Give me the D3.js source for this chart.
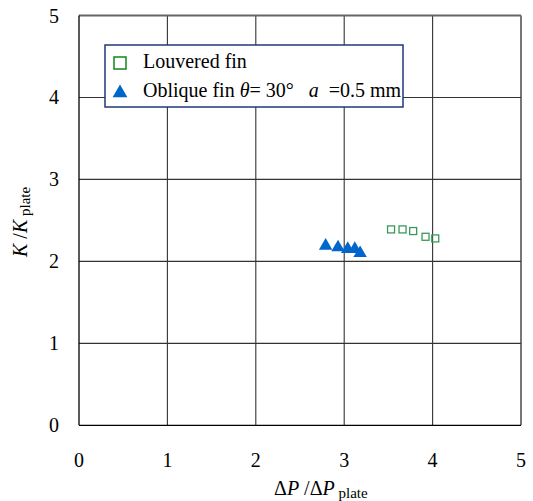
<!DOCTYPE html>
<html><head><meta charset="utf-8">
<script src="https://cdn.jsdelivr.net/npm/d3@7"></script>
<style>body{margin:0;background:#fff}</style>
</head><body><svg id="c" width="533" height="501" font-family="'Liberation Serif', 'Times New Roman', 'DejaVu Serif', serif"></svg>
<script>
const xTicks=[0,1,2,3,4,5];
const yTicks=[0,1,2,3,4,5];
const louveredX=[3.53,3.66,3.78,3.92,4.03];
const louveredY=[2.39,2.39,2.37,2.30,2.28];
const obliqueX=[2.79,2.93,3.04,3.12,3.18];
const obliqueY=[2.19,2.17,2.15,2.15,2.10];

const FONT="Liberation Serif, Times New Roman, serif";
const svg=d3.select("#c");
const L=79,R=521,T=15.5,B=425.3;
const x=d3.scaleLinear().domain([0,5]).range([L,R]);
const y=d3.scaleLinear().domain([0,5]).range([B,T]);

// grid
const g=svg.append("g");
g.selectAll(".vx").data(xTicks.filter(d=>d>0)).enter().append("line")
 .attr("x1",d=>x(d)).attr("x2",d=>x(d)).attr("y1",T).attr("y2",B)
 .attr("stroke",d=>d===5?"#555":"#333").attr("stroke-width",d=>d===5?1.6:1.1);
g.selectAll(".hy").data(yTicks.filter(d=>d>0)).enter().append("line")
 .attr("y1",d=>y(d)).attr("y2",d=>y(d)).attr("x1",L).attr("x2",R)
 .attr("stroke",d=>d===5?"#666":"#333").attr("stroke-width",d=>d===5?1.8:1.1);
g.append("line").attr("x1",L).attr("x2",L).attr("y1",T).attr("y2",B).attr("stroke","#000").attr("stroke-width",1.3);
g.append("line").attr("x1",L).attr("x2",R).attr("y1",B).attr("y2",B).attr("stroke","#000").attr("stroke-width",1.3);

// tick labels
svg.selectAll(".xl").data(xTicks).enter().append("text").attr("font-family",FONT)
 .attr("x",d=>x(d)).attr("y",467).attr("text-anchor","middle").attr("font-size",20).text(d=>d);
svg.selectAll(".yl").data(yTicks).enter().append("text").attr("font-family",FONT)
 .attr("x",59).attr("y",d=>y(d)+7).attr("text-anchor","end").attr("font-size",20).text(d=>d);

// axis titles
const xt=svg.append("text").attr("font-family",FONT).attr("x",274).attr("y",495).attr("font-size",20);
xt.append("tspan").text("Δ");
xt.append("tspan").attr("font-style","italic").text("P");
xt.append("tspan").text(" /Δ");
xt.append("tspan").attr("font-style","italic").text("P");
xt.append("tspan").attr("font-size",15).attr("dy",3).text(" plate");

const yt=svg.append("text").attr("font-family",FONT).attr("transform","translate(27,257) rotate(-90)").attr("font-size",20);
yt.append("tspan").attr("font-style","italic").text("K");
yt.append("tspan").text(" /");
yt.append("tspan").attr("font-style","italic").text("K");
yt.append("tspan").attr("font-size",15).attr("dy",3).text(" plate");

// data
const louvered=louveredX.map((v,i)=>[v,louveredY[i]]);
const oblique=obliqueX.map((v,i)=>[v,obliqueY[i]]);
svg.selectAll(".sq").data(louvered).enter().append("rect")
 .attr("x",d=>x(d[0])-3.5).attr("y",d=>y(d[1])-3.5).attr("width",7).attr("height",7)
 .attr("fill","none").attr("stroke","#3a9a5c").attr("stroke-width",1.3);
const tri=d3.symbol().type(d3.symbolTriangle).size(78);
svg.selectAll(".tr").data(oblique).enter().append("path")
 .attr("d",tri).attr("transform",d=>`translate(${x(d[0])},${y(d[1])})`).attr("fill","#0066cc");

// legend
const lg=svg.append("g");
lg.append("rect").attr("x",105).attr("y",45).attr("width",298).attr("height",62)
 .attr("fill","#fff").attr("stroke","#1f3a7a").attr("stroke-width",1.5);
lg.append("rect").attr("x",114).attr("y",57).attr("width",12).attr("height",12)
 .attr("fill","none").attr("stroke","#1e8c2a").attr("stroke-width",1.6);
lg.append("path").attr("d",d3.symbol().type(d3.symbolTriangle).size(95)).attr("transform","translate(120,93)").attr("fill","#0066cc");
lg.append("text").attr("font-family",FONT).attr("x",143).attr("y",68).attr("font-size",20).text("Louvered fin");
const t2=lg.append("text").attr("font-family",FONT).attr("x",143).attr("y",97).attr("font-size",20).attr("xml:space","preserve");
t2.append("tspan").text("Oblique fin ");
t2.append("tspan").attr("font-style","italic").text("θ");
t2.append("tspan").text("= 30°   ");
t2.append("tspan").attr("font-style","italic").text("a");
t2.append("tspan").text("  =0.5 mm");
</script></body></html>
